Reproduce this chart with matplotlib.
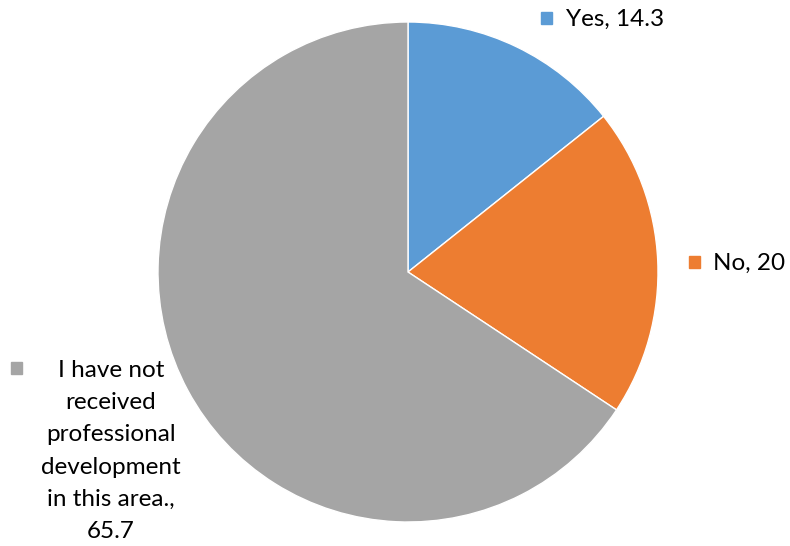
import matplotlib
matplotlib.use("Agg")
import matplotlib.pyplot as plt

# Data
labels = ["Yes", "No", "I have not\nreceived\nprofessional\ndevelopment\nin this area.,"]
values = [14.3, 20, 65.7]
colors = ["#5B9BD5", "#ED7D31", "#A5A5A5"]

plt.rcParams['font.family'] = ['Lato', 'DejaVu Sans']

W, H = 790, 546
fig = plt.figure(figsize=(W / 100, H / 100), dpi=100)

# pie centre and radius in pixels
cx, cy, r = 408, 272, 250
ax = fig.add_axes([(cx - r) / W, (H - cy - r) / H, 2 * r / W, 2 * r / H])
ax.pie(values, colors=colors, startangle=90, counterclock=False, radius=1,
       wedgeprops=dict(edgecolor="white", linewidth=1))
ax.set_xlim(-1, 1)
ax.set_ylim(-1, 1)
ax.set_aspect("equal")
ax.axis("off")

fs = 17.5

def fx(px):
    return px / W

def fy(py):
    return 1 - py / H

# Yes label
fig.patches.append(plt.Rectangle((fx(541), fy(24)), 11 / W, 12 / H, color=colors[0],
                                 transform=fig.transFigure, figure=fig))
fig.text(fx(566), fy(19), f"{labels[0]}, {values[0]}", fontsize=fs, va="center", ha="left")

# No label
fig.patches.append(plt.Rectangle((fx(689), fy(268)), 11 / W, 12 / H, color=colors[1],
                                 transform=fig.transFigure, figure=fig))
fig.text(fx(713), fy(263), f"{labels[1]}, {values[1]:g}", fontsize=fs, va="center", ha="left")

# gray label
fig.patches.append(plt.Rectangle((fx(11), fy(374)), 11 / W, 12 / H, color=colors[2],
                                 transform=fig.transFigure, figure=fig))
fig.text(fx(111), fy(451), f"{labels[2]}\n{values[2]}", fontsize=fs, va="center",
         ha="center", linespacing=1.67)

fig.savefig("out.png", dpi=100)
